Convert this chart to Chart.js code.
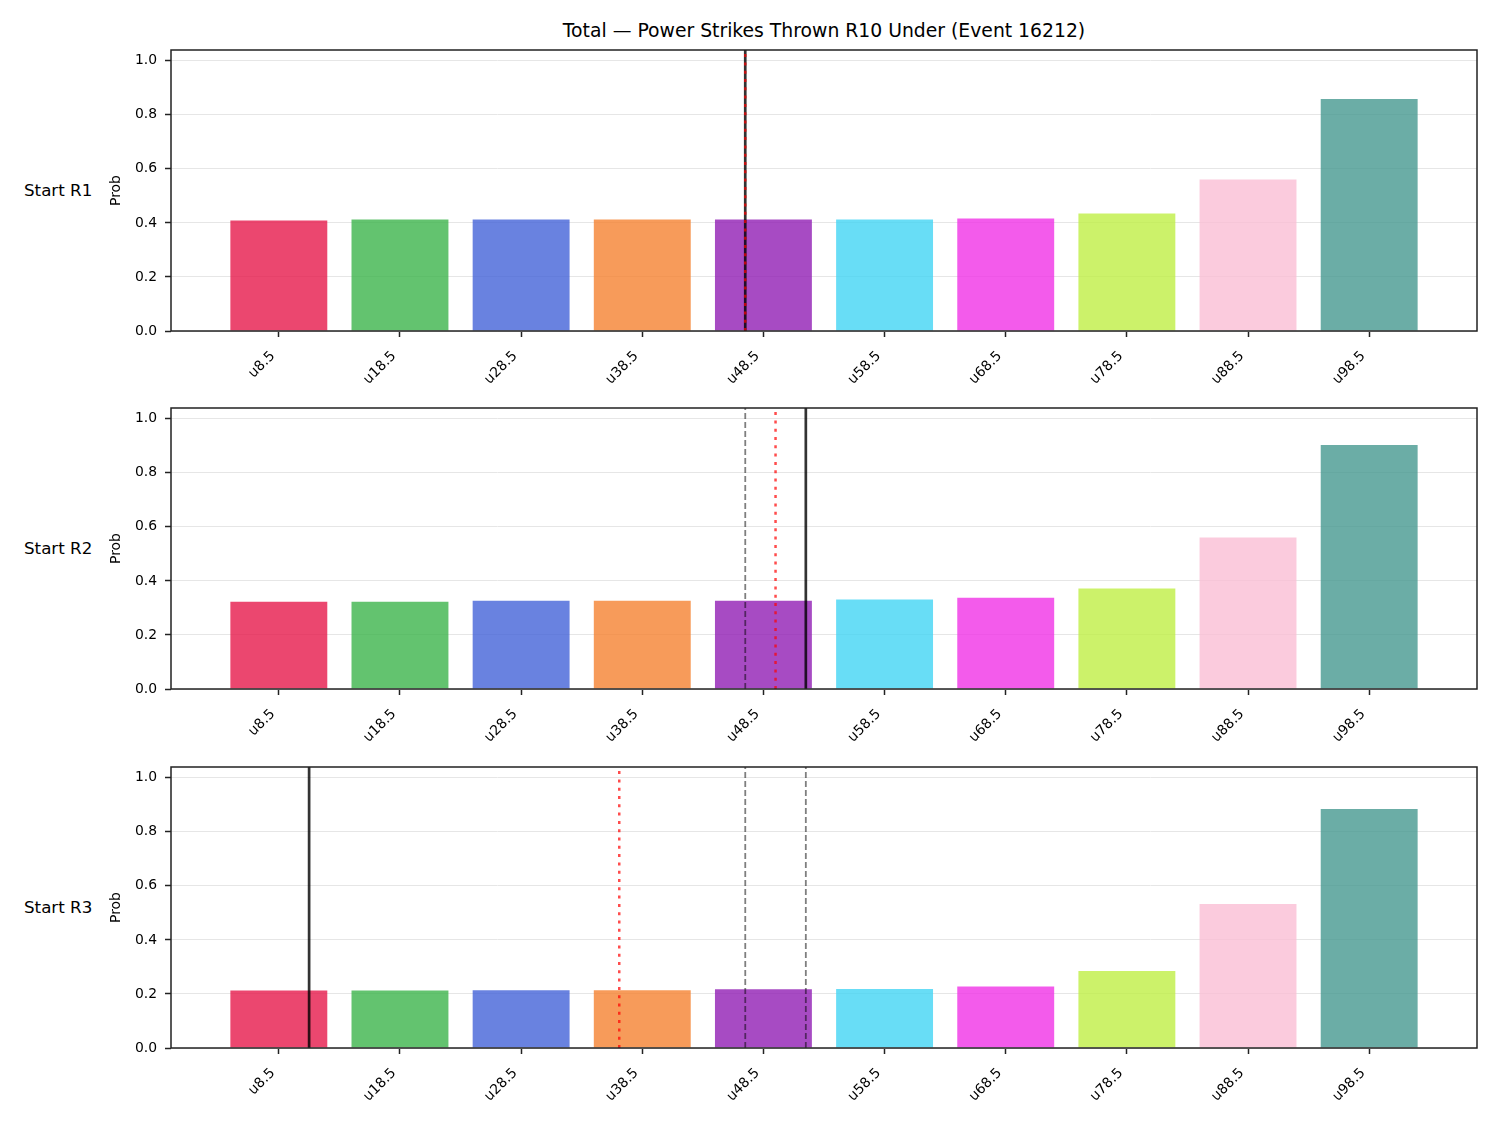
<!DOCTYPE html>
<html>
<head>
<meta charset="utf-8">
<script src="https://cdn.jsdelivr.net/npm/chart.js@4.4.1/dist/chart.umd.min.js"></script>
<style>
  body { margin: 0; background: #fff; font-family: "DejaVu Sans", sans-serif; }
  #page { position: relative; width: 1500px; height: 1125px; }
  .box { position: absolute; left: 100px; width: 1400px; height: 351px; }
  .txt { position: absolute; color: #000; font-size: 16.7px; line-height: 20px; white-space: nowrap; }
</style>
</head>
<body>
<div id="page">
  <div class="txt" style="left:171px;width:1306px;top:20px;text-align:center;font-size:18.8px;line-height:22px;">Total — Power Strikes Thrown R10 Under (Event 16212)</div>
  <div class="txt" style="left:24px;top:180px;">Start R1</div>
  <div class="txt" style="left:24px;top:538px;">Start R2</div>
  <div class="txt" style="left:24px;top:897px;">Start R3</div>
  <div class="box" style="top:40px;"><canvas id="p1"></canvas></div>
  <div class="box" style="top:398px;"><canvas id="p2"></canvas></div>
  <div class="box" style="top:757px;"><canvas id="p3"></canvas></div>
</div>
<script>
// categories and tick labels
const categories = ["u8.5", "u18.5", "u28.5", "u38.5", "u48.5", "u58.5", "u68.5", "u78.5", "u88.5", "u98.5"];
const yTicks = [0, 0.2, 0.4, 0.6, 0.8, 1.0];

// bar values, one array per start round
const probR1 = [0.409, 0.413, 0.413, 0.413, 0.413, 0.413, 0.416, 0.435, 0.561, 0.859];
const probR2 = [0.323, 0.323, 0.327, 0.327, 0.327, 0.331, 0.338, 0.372, 0.561, 0.903];
const probR3 = [0.213, 0.213, 0.214, 0.214, 0.217, 0.218, 0.228, 0.285, 0.533, 0.885];

// vertical markers, in category-index units
const blackLine = [3.85, 4.35, 0.25];
const redLine = [3.85, 4.10, 2.81];
const prevLines = [[], [3.85], [3.85, 4.35]];

const barColors = ["#e6194b", "#3cb44b", "#4363d8", "#f58231", "#911eb4",
                   "#42d4f4", "#f032e6", "#bfef45", "#fabed4", "#469990"];

Chart.defaults.font.family = "'DejaVu Sans', sans-serif";
Chart.defaults.color = "#000";

const Y_MAX = 1.04;

function alpha(hex, a) {
    const n = parseInt(hex.slice(1), 16);
    return `rgba(${(n >> 16) & 255}, ${(n >> 8) & 255}, ${n & 255}, ${a})`;
}

// matplotlib-style box around the axes
const frame = {
    id: "frame",
    afterDraw(chart) {
        const { ctx, chartArea: a } = chart;
        ctx.save();
        ctx.strokeStyle = "#222";
        ctx.lineWidth = 1.5;
        ctx.strokeRect(a.left, a.top, a.right - a.left, a.bottom - a.top);
        ctx.restore();
    },
};

function vline(x, color, width, dash, order) {
    return {
        type: "line",
        data: [{ x, y: 0 }, { x, y: Y_MAX }],
        borderColor: color,
        borderWidth: width,
        borderDash: dash,
        borderCapStyle: "butt",
        pointRadius: 0,
        fill: false,
        order,
    };
}

function makePanel(id, probs, k) {
    const datasets = [
        {
            type: "bar",
            data: probs.map((v, i) => ({ x: i, y: v })),
            backgroundColor: barColors.map((c) => alpha(c, 0.8)),
            borderWidth: 0,
            barPercentage: 1,
            categoryPercentage: 0.8,
            order: 10,
        },
        vline(blackLine[k], "rgba(0, 0, 0, 0.8)", 2.7, [], 3),
        vline(redLine[k], "rgba(255, 0, 0, 0.7)", 2.5, [3, 5.3], 1),
    ];
    prevLines[k].forEach((x) => datasets.push(vline(x, "rgba(0, 0, 0, 0.5)", 1.8, [6, 3], 2)));

    new Chart(document.getElementById(id), {
        data: { datasets },
        plugins: [frame],
        options: {
            responsive: true,
            maintainAspectRatio: false,
            animation: false,
            events: [],
            layout: { padding: { top: 10, right: 23, left: 0, bottom: 0 } },
            plugins: { legend: { display: false }, tooltip: { enabled: false } },
            scales: {
                x: {
                    type: "linear",
                    min: -0.89,
                    max: 9.89,
                    offset: false,
                    afterFit: (s) => { s.height = 60; },
                    afterBuildTicks: (s) => { s.ticks = categories.map((c, i) => ({ value: i })); },
                    grid: { offset: false, drawOnChartArea: false, tickLength: 6, tickColor: "#222", tickWidth: 1.5 },
                    border: { display: false },
                    ticks: {
                        autoSkip: false,
                        maxRotation: 45,
                        minRotation: 45,
                        padding: 11,
                        labelOffset: -6,
                        color: "#000",
                        font: { size: 13.9 },
                        callback: (v) => categories[v],
                    },
                },
                y: {
                    min: 0,
                    max: Y_MAX,
                    afterFit: (s) => { s.width = 71; s.paddingTop = 0; s.paddingBottom = 0; },
                    afterBuildTicks: (s) => { s.ticks = yTicks.map((v) => ({ value: v })); },
                    grid: { color: "#e6e6e6", lineWidth: 1, tickLength: 6, tickColor: "#222", tickWidth: 1.5 },
                    border: { display: false },
                    title: {
                        display: true,
                        text: "Prob",
                        font: { size: 13.9 },
                        padding: { top: 8, bottom: 0 },
                    },
                    ticks: {
                        padding: 8,
                        color: "#000",
                        font: { size: 13.9 },
                        callback: (v) => v.toFixed(1),
                    },
                },
            },
        },
    });
}

makePanel("p1", probR1, 0);
makePanel("p2", probR2, 1);
makePanel("p3", probR3, 2);
</script>
</body>
</html>
